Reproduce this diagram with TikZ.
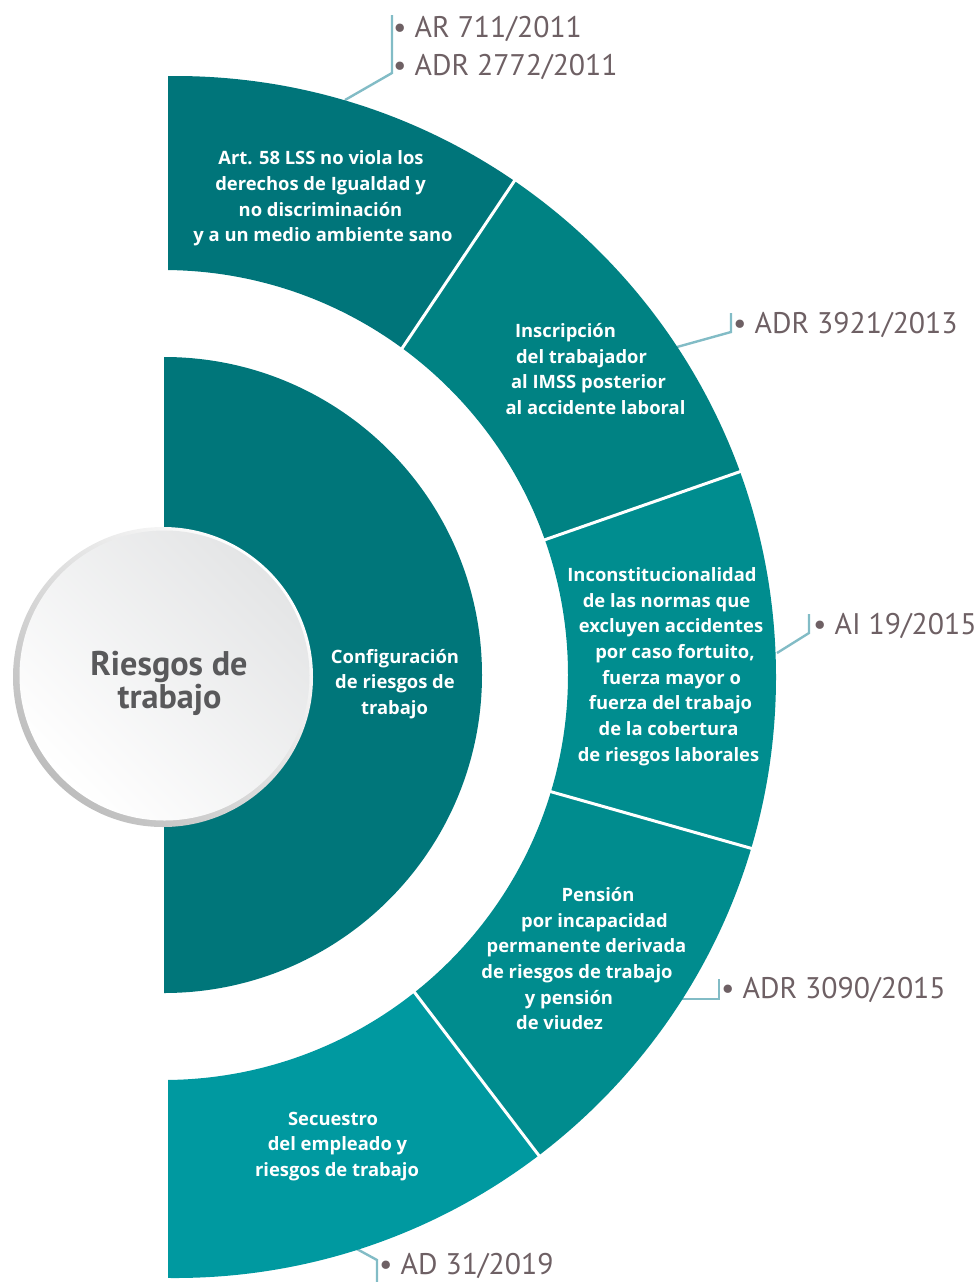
\documentclass[tikz,border=0pt]{standalone}
\usepackage{fontspec}
\setmainfont{PT Sans}
\newfontfamily\bandfont{Open Sans}
\usetikzlibrary{calc}

\definecolor{coreteal}{HTML}{00767A}
\definecolor{bandA}{HTML}{00757A}
\definecolor{bandB}{HTML}{008283}
\definecolor{bandC}{HTML}{008D8F}
\definecolor{bandD}{HTML}{008C8E}
\definecolor{bandE}{HTML}{0099A0}
\definecolor{leadercol}{HTML}{82BCC6}
\definecolor{refgray}{HTML}{6E6064}
\definecolor{titlegray}{HTML}{59595B}
\definecolor{rimgray}{HTML}{BDBDBD}
\definecolor{discgray}{HTML}{E4E5E6}

% one white line of a band's caption, placed by its baseline centre
\newcommand\bandline[4]{\node[bandtext] (#1) at (#2,#3) {#4};}

\begin{document}
\begin{tikzpicture}[x=1pt,y=-1pt,
  bandtext/.style={text=white, font=\bandfont\fontsize{18.4}{23}\selectfont\bfseries, anchor=base, inner sep=0pt},
  reftext/.style={text=refgray, font=\fontsize{29.8}{34}\selectfont, anchor=base west, inner sep=0pt},
  titletext/.style={text=titlegray, font=\fontsize{34.2}{38}\selectfont\bfseries, anchor=base, inner sep=0pt},
  leader/.style={draw=leadercol, line width=2.4pt},
  divider/.style={draw=white, line width=3pt}]
\useasboundingbox (0,0) rectangle (979,1282);

% ends of the white dividers between the bands (inner end, outer end)
\coordinate (A1) at (403,347);  \coordinate (B1) at (513,183);
\coordinate (A2) at (547,539);  \coordinate (B2) at (739,472);
\coordinate (A3) at (552,792);  \coordinate (B3) at (750,848);
\coordinate (A4) at (415,993);  \coordinate (B4) at (537,1153);

% leader lines from the bands to the references
\coordinate (l1a) at (345,100);  \coordinate (l1b) at (392,73);  \coordinate (l1c) at (392,15);
\coordinate (l2a) at (677,347);  \coordinate (l2b) at (731,332); \coordinate (l2c) at (731,313);
\coordinate (l3a) at (777,653);  \coordinate (l3b) at (809,633); \coordinate (l3c) at (809,614);
\coordinate (l4a) at (682,999);  \coordinate (l4b) at (719,999); \coordinate (l4c) at (719,979);
\coordinate (l5a) at (355,1248); \coordinate (l5b) at (377,1260); \coordinate (l5c) at (377,1290);
\draw[leader] (l1a) -- (l1b) -- (l1c);
\draw[leader] (l2a) -- (l2b) -- (l2c);
\draw[leader] (l3a) -- (l3b) -- (l3c);
\draw[leader] (l4a) -- (l4b) -- (l4c);
\draw[leader] (l5a) -- (l5b) -- (l5c);

% outer ring, cut at its left side and split into five bands
\begin{scope}
  \clip (168,-50) rectangle (1000,1300);
  \begin{scope}
    \clip (100,-200) -- ($(A1)!4!(B1)$) -- ($(A1)!-1!(B1)$) -- (100,511) -- cycle;
    \fill[bandA, even odd rule] (175,677) circle[radius=601] (163,675) circle[radius=405];
  \end{scope}
  \begin{scope}
    \clip ($(A1)!-1!(B1)$) -- ($(A1)!4!(B1)$) -- (1300,-300) -- ($(A2)!4!(B2)$) -- ($(A2)!-1!(B2)$) -- cycle;
    \fill[bandB, even odd rule] (175,677) circle[radius=601] (163,675) circle[radius=405];
  \end{scope}
  \begin{scope}
    \clip ($(A2)!-1!(B2)$) -- ($(A2)!4!(B2)$) -- (1400,650) -- ($(A3)!4!(B3)$) -- ($(A3)!-1!(B3)$) -- cycle;
    \fill[bandC, even odd rule] (175,677) circle[radius=601] (163,675) circle[radius=405];
  \end{scope}
  \begin{scope}
    \clip ($(A3)!-1!(B3)$) -- ($(A3)!4!(B3)$) -- (1300,1700) -- ($(A4)!4!(B4)$) -- ($(A4)!-1!(B4)$) -- cycle;
    \fill[bandD, even odd rule] (175,677) circle[radius=601] (163,675) circle[radius=405];
  \end{scope}
  \begin{scope}
    \clip ($(A4)!-1!(B4)$) -- ($(A4)!4!(B4)$) -- (100,1700) -- (100,833) -- cycle;
    \fill[bandE, even odd rule] (175,677) circle[radius=601] (163,675) circle[radius=405];
  \end{scope}
\end{scope}
\draw[divider] ($(A1)!-0.05!(B1)$) -- ($(A1)!1.05!(B1)$);
\draw[divider] ($(A2)!-0.05!(B2)$) -- ($(A2)!1.05!(B2)$);
\draw[divider] ($(A3)!-0.05!(B3)$) -- ($(A3)!1.05!(B3)$);
\draw[divider] ($(A4)!-0.05!(B4)$) -- ($(A4)!1.05!(B4)$);

% inner half disc
\fill[coreteal] (164,357) arc[start angle=-90, end angle=90, radius=318] -- cycle;

% central disc with its shaded rim
\shade[top color=white, bottom color=rimgray, shading angle=-45] (163,677) circle[radius=150];
\shade[top color=discgray, bottom color=white, shading angle=-45] (164.5,675.5) circle[radius=145];

% captions
\node[titletext] (title1) at (169,675) {Riesgos de};
\node[titletext] (title2) at (169.5,708) {trabajo};

\bandline{core1}{395}{663}{Configuración}
\bandline{core2}{395}{688}{de riesgos de}
\bandline{core3}{394.5}{714}{trabajo}

\bandline{a1}{321}{164}{Art. 58 LSS no viola los}
\bandline{a2}{320.5}{190}{derechos de Igualdad y}
\bandline{a3}{320.5}{216}{no discriminación}
\bandline{a4}{323}{241}{y a un medio ambiente sano}

\bandline{b1}{565.5}{337}{Inscripción}
\bandline{b2}{581.5}{363}{del trabajador}
\bandline{b3}{588.5}{388}{al IMSS posterior}
\bandline{b4}{595.5}{414}{al accidente laboral}

\bandline{c1}{662}{581}{Inconstitucionalidad}
\bandline{c2}{666.5}{607}{de las normas que}
\bandline{c3}{671}{632}{excluyen accidentes}
\bandline{c4}{675}{658}{por caso fortuito,}
\bandline{c5}{671.5}{684}{fuerza mayor o}
\bandline{c6}{670.5}{709}{fuerza del trabajo}
\bandline{c7}{668.5}{735}{de la cobertura}
\bandline{c8}{668.5}{761}{de riesgos laborales}

\bandline{d1}{598}{901}{Pensión}
\bandline{d2}{594.5}{927}{por incapacidad}
\bandline{d3}{586.5}{952}{permanente derivada}
\bandline{d4}{577}{978}{de riesgos de trabajo}
\bandline{d5}{569}{1004}{y pensión}
\bandline{d6}{559.5}{1029}{de viudez}

\bandline{e1}{333}{1125}{Secuestro}
\bandline{e2}{337.5}{1150}{del empleado y}
\bandline{e3}{337}{1176}{riesgos de trabajo}

% references
\node[reftext] (r1a) at (393,37) {• AR 711/2011};
\node[reftext] (r1b) at (393,75) {• ADR 2772/2011};
\node[reftext] (r2) at (733,333) {• ADR 3921/2013};
\node[reftext] (r3) at (813,634) {• AI 19/2015};
\node[reftext] (r4) at (721,998) {• ADR 3090/2015};
\node[reftext] (r5) at (379,1274) {• AD 31/2019};
\end{tikzpicture}
\end{document}
